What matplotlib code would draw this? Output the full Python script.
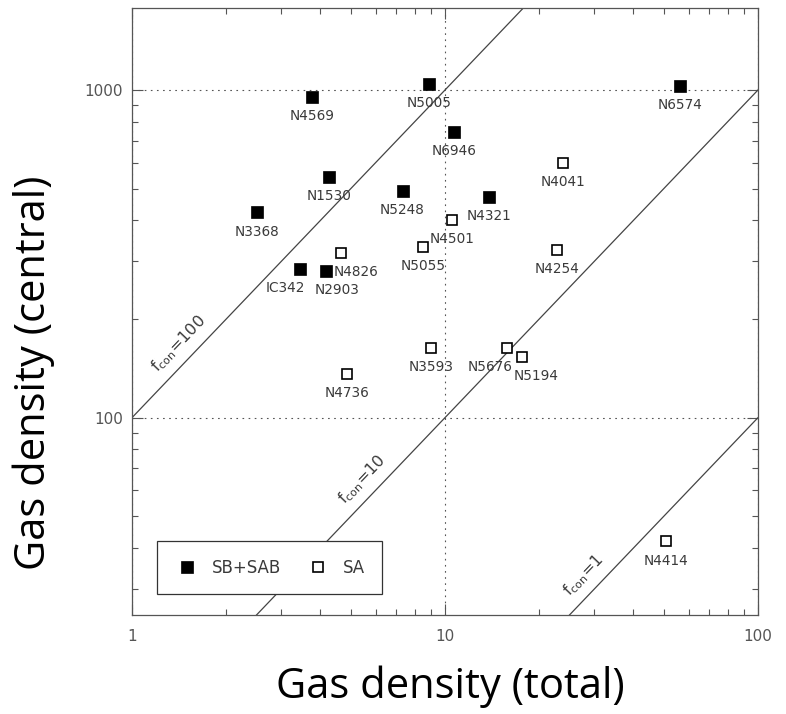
import numpy as np
import matplotlib
matplotlib.use("Agg")
import matplotlib.pyplot as plt
from matplotlib.ticker import FixedLocator, FixedFormatter, LogLocator, NullFormatter

# barred galaxies (SB+SAB), filled squares
sb_names = ["N4569", "N5005", "N6946", "N1530", "N5248", "N4321", "N3368", "IC342", "N2903", "N6574"]
sb_total = [3.76, 8.91, 10.7, 4.25, 7.32, 13.8, 2.50, 3.45, 4.16, 56.3]
sb_central = [954, 1045, 746, 543, 491, 471, 423, 284, 281, 1026]

# unbarred galaxies (SA), open squares
sa_names = ["N4501", "N5055", "N4826", "N4041", "N4254", "N3593", "N4736", "N5676", "N5194", "N4414"]
sa_total = [10.5, 8.51, 4.64, 23.9, 22.8, 9.0, 4.85, 15.8, 17.6, 50.7]
sa_central = [400, 332, 318, 600, 325, 163, 136, 163, 153, 41.9]

# concentration factor lines y = f_con * x
fcon = [100, 10, 1]
fcon_label_x = [1.55, 5.97, 30.4]

# labels that are shifted sideways (points)
label_dx = {"N4826": 10.8, "IC342": -10.8, "N2903": 8.0, "N5676": -12.0, "N5194": 10.6}

fig = plt.figure(figsize=(7.86, 7.14), dpi=100)
ax = fig.add_axes([0.1679, 0.1387, 0.7964, 0.8501])
ax.set_xscale("log")
ax.set_yscale("log")
ax.set_xlim(1, 100)
ax.set_ylim(25, 1780)

gray = "#555555"
xline = np.array([1.0, 100.0])
for f in fcon:
    ax.plot(xline, f * xline, color="#444444", lw=0.9)

ax.plot(sb_total, sb_central, "s", color="black", ms=8, mew=0.5, ls="none", label="SB+SAB")
ax.plot(sa_total, sa_central, "s", mfc="white", mec="black", ms=7.6, mew=1.2, ls="none", label="SA")

for names, xs, ys in [(sb_names, sb_total, sb_central), (sa_names, sa_total, sa_central)]:
    for n, x, y in zip(names, xs, ys):
        ax.annotate(n, (x, y), xytext=(label_dx.get(n, 0), -13.7), textcoords="offset points",
                    ha="center", va="center", fontsize=9.8, color="#3a3a3a")

for f, x in zip(fcon, fcon_label_x):
    ax.annotate(r"f$_{\rm con}$=%d" % f, (x, f * x), xytext=(-9.0, 8.6), textcoords="offset points",
                ha="center", va="center", rotation=46.25, rotation_mode="anchor",
                fontsize=11.5, color="#3a3a3a")

# ticks
ax.xaxis.set_major_locator(FixedLocator([1, 10, 100]))
ax.xaxis.set_major_formatter(FixedFormatter(["1", "10", "100"]))
ax.xaxis.set_minor_locator(LogLocator(base=10, subs=np.arange(2, 10)))
ax.xaxis.set_minor_formatter(NullFormatter())
ax.yaxis.set_major_locator(FixedLocator([100, 1000]))
ax.yaxis.set_major_formatter(FixedFormatter(["100", "1000"]))
ax.yaxis.set_minor_locator(LogLocator(base=10, subs=np.arange(2, 10)))
ax.yaxis.set_minor_formatter(NullFormatter())
ax.tick_params(which="both", direction="in", top=True, right=True, color=gray, width=0.8)
ax.tick_params(which="major", length=8, labelsize=11, labelcolor="#555555")
ax.tick_params(which="minor", length=4.5)
ax.tick_params(axis="x", which="major", pad=10)
ax.tick_params(axis="y", which="major", pad=6.3)
for s in ax.spines.values():
    s.set_color(gray)
    s.set_linewidth(0.9)

ax.grid(which="major", ls=(0, (1.5, 4)), color="#555555", lw=0.8)

leg = ax.legend(loc="lower left", bbox_to_anchor=(0.0395, 0.0346), borderaxespad=0, ncol=2,
                fontsize=12, borderpad=1.04, handlelength=1.52, handletextpad=0.74,
                columnspacing=1.46, fancybox=False, framealpha=1, edgecolor="#333333")
leg.get_frame().set_linewidth(0.9)
for t in leg.get_texts():
    t.set_color("#3a3a3a")

fig.text(450 / 786, 1 - 698 / 714, "Gas density (total)", family="Open Sans", fontsize=30,
         ha="center", va="baseline")
fig.text(45 / 786, 1 - 373 / 714, "Gas density (central)", family="Open Sans", fontsize=30,
         ha="center", va="baseline", rotation=90, rotation_mode="anchor")

fig.savefig("out.png", dpi=100)
